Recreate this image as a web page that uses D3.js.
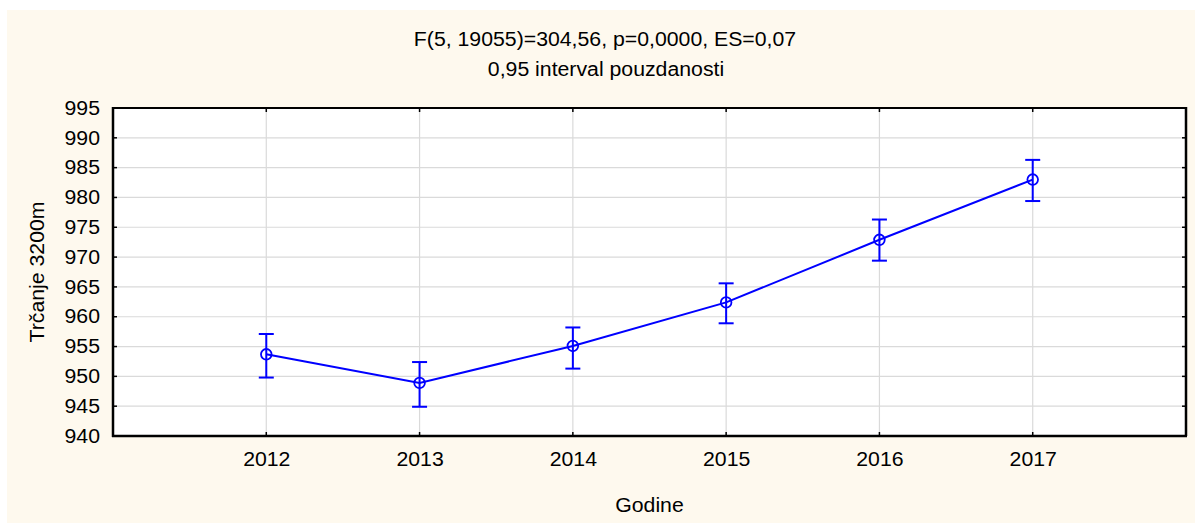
<!DOCTYPE html>
<html>
<head>
<meta charset="utf-8">
<script src="https://cdn.jsdelivr.net/npm/d3@7"></script>
<style>
  html, body { margin: 0; padding: 0; background: #ffffff; }
  svg { display: block; }
  text { font-family: "Liberation Sans", Arial, sans-serif; fill: #000; }
</style>
</head>
<body>
<svg id="chart" width="1195" height="524"></svg>
<script>
// ---- data ----
const years = ["2012", "2013", "2014", "2015", "2016", "2017"];
const means = [953.7, 948.9, 955.1, 962.4, 972.9, 983.0];
const lower = [949.8, 944.9, 951.3, 958.9, 969.4, 979.4];
const upper = [957.1, 952.4, 958.2, 965.6, 976.3, 986.3];
const yTicks = [940, 945, 950, 955, 960, 965, 970, 975, 980, 985, 990, 995];
const titleLine1 = "F(5, 19055)=304,56, p=0,0000, ES=0,07";
const titleLine2 = "0,95 interval pouzdanosti";
const xLabel = "Godine";
const yLabel = "Trčanje 3200m";

// ---- layout ----
const W = 1195, H = 524;
const plot = { left: 113, right: 1186, top: 108, bottom: 436 };
const blue = "#0000ff";
const fontSize = 19.5;
const stretch = 1.09;

const svg = d3.select("#chart");

svg.append("rect")
  .attr("x", 7).attr("y", 10)
  .attr("width", W - 7).attr("height", 513)
  .attr("fill", "#fef9ee");

svg.append("rect")
  .attr("x", plot.left).attr("y", plot.top)
  .attr("width", plot.right - plot.left).attr("height", plot.bottom - plot.top)
  .attr("fill", "#ffffff");

const x = d3.scalePoint().domain(years).range([plot.left, plot.right]).padding(1);
const y = d3.scaleLinear().domain([940, 995]).range([plot.bottom, plot.top]);

// grid
const grid = svg.append("g");
grid.selectAll("line.h").data(yTicks.slice(1, -1)).join("line")
  .attr("x1", plot.left).attr("x2", plot.right)
  .attr("y1", d => y(d)).attr("y2", d => y(d))
  .attr("stroke", "#dadada").attr("stroke-width", 1.2);
grid.selectAll("line.v").data(years).join("line")
  .attr("y1", plot.top).attr("y2", plot.bottom)
  .attr("x1", d => x(d)).attr("x2", d => x(d))
  .attr("stroke", "#dadada").attr("stroke-width", 1.2);

// axes
const yAxis = d3.axisLeft(y).tickValues(yTicks).tickSize(0).tickPadding(13).tickFormat(d3.format("d"));
const gy = svg.append("g").attr("transform", `translate(${plot.left},0)`).call(yAxis);
gy.select(".domain").remove();
gy.selectAll("text").attr("font-size", fontSize).attr("font-family", "Liberation Sans, Arial, sans-serif").attr("fill", "#000");

const xAxis = d3.axisBottom(x).tickSize(0).tickPadding(16);
const gx = svg.append("g").attr("transform", `translate(0,${plot.bottom})`).call(xAxis);
gx.select(".domain").remove();
gx.selectAll("text").attr("font-size", fontSize).attr("font-family", "Liberation Sans, Arial, sans-serif").attr("fill", "#000");

// inside ticks
const tk = svg.append("g").attr("stroke", "#000").attr("stroke-width", 1.5);
tk.selectAll("line.l").data(yTicks).join("line")
  .attr("x1", plot.left).attr("x2", plot.left + 4)
  .attr("y1", d => y(d)).attr("y2", d => y(d));
tk.selectAll("line.r").data(yTicks).join("line")
  .attr("x1", plot.right).attr("x2", plot.right - 4)
  .attr("y1", d => y(d)).attr("y2", d => y(d));
tk.selectAll("line.b").data(years).join("line")
  .attr("x1", d => x(d)).attr("x2", d => x(d))
  .attr("y1", plot.bottom).attr("y2", plot.bottom - 4);
tk.selectAll("line.t").data(years).join("line")
  .attr("x1", d => x(d)).attr("x2", d => x(d))
  .attr("y1", plot.top).attr("y2", plot.top + 4);

// border
const b = svg.append("g").attr("stroke", "#000");
b.append("line").attr("x1", plot.left).attr("x2", plot.right).attr("y1", plot.top).attr("y2", plot.top).attr("stroke-width", 2);
b.append("line").attr("x1", plot.right).attr("x2", plot.right).attr("y1", plot.top - 1).attr("y2", plot.bottom).attr("stroke-width", 2.5);
b.append("line").attr("x1", plot.left).attr("x2", plot.left).attr("y1", plot.top - 1).attr("y2", plot.bottom + 1).attr("stroke-width", 2.5);
b.append("line").attr("x1", plot.left - 1).attr("x2", plot.right + 1).attr("y1", plot.bottom).attr("y2", plot.bottom).attr("stroke-width", 2.5);

// data
const data = years.map((yr, i) => ({ yr, m: means[i], lo: lower[i], hi: upper[i] }));
const g = svg.append("g");
g.append("path").datum(data)
  .attr("fill", "none").attr("stroke", blue).attr("stroke-width", 2)
  .attr("d", d3.line().x(d => x(d.yr)).y(d => y(d.m)));

const eb = g.selectAll("g.eb").data(data).join("g").attr("stroke", blue).attr("stroke-width", 2).attr("fill", "none");
eb.append("line").attr("x1", d => x(d.yr)).attr("x2", d => x(d.yr)).attr("y1", d => y(d.lo)).attr("y2", d => y(d.hi));
eb.append("line").attr("x1", d => x(d.yr) - 7.5).attr("x2", d => x(d.yr) + 7.5).attr("y1", d => y(d.lo)).attr("y2", d => y(d.lo));
eb.append("line").attr("x1", d => x(d.yr) - 7.5).attr("x2", d => x(d.yr) + 7.5).attr("y1", d => y(d.hi)).attr("y2", d => y(d.hi));
eb.append("circle").attr("cx", d => x(d.yr)).attr("cy", d => y(d.m)).attr("r", 5.3).attr("stroke-width", 1.8);

// titles
svg.append("text").attr("x", 605).attr("y", 46).attr("text-anchor", "middle").attr("font-size", fontSize).text(titleLine1);
svg.append("text").attr("x", 606).attr("y", 76).attr("text-anchor", "middle").attr("font-size", fontSize).text(titleLine2);
svg.append("text").attr("x", (plot.left + plot.right) / 2).attr("y", 512).attr("text-anchor", "middle").attr("font-size", fontSize).text(xLabel);
svg.append("text")
  .attr("transform", `translate(44,${(plot.top + plot.bottom) / 2}) rotate(-90)`)
  .attr("text-anchor", "middle").attr("font-size", fontSize).text(yLabel);

// horizontal stretch to match reference glyph widths
svg.selectAll("text").each(function () {
  const len = this.getComputedTextLength();
  d3.select(this).attr("textLength", len * stretch).attr("lengthAdjust", "spacingAndGlyphs");
});
</script>
</body>
</html>
